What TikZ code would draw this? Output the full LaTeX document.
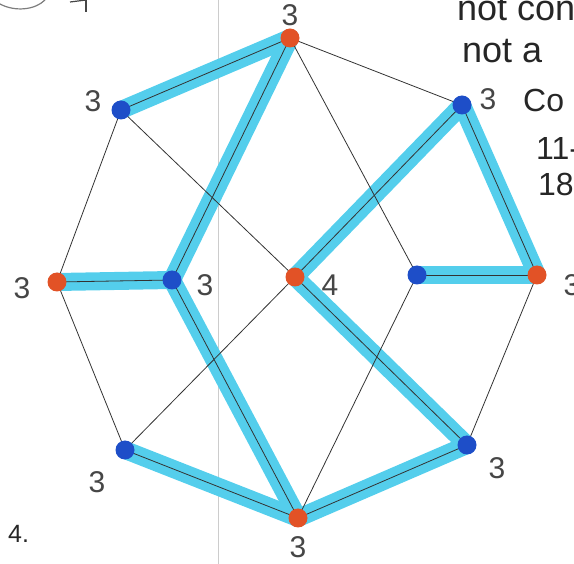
\documentclass[tikz,border=0pt]{standalone}
\usepackage{fontspec}
\setmainfont{Liberation Sans}
\definecolor{vorange}{RGB}{226,82,38}
\definecolor{vblue}{RGB}{30,78,200}
\definecolor{hlcyan}{RGB}{84,206,236}
\definecolor{hand}{RGB}{70,70,70}
\begin{document}
\begin{tikzpicture}[x=1pt,y=-1pt,
  vtx/.style={circle,inner sep=0pt,minimum size=19pt},
  orangev/.style={vtx,fill=vorange},
  bluev/.style={vtx,fill=vblue},
  edge/.style={draw=black!80,line width=0.8pt},
  hl/.style={draw=hlcyan,line width=18pt,line cap=round},
  lbl/.style={text=hand,inner sep=0pt,font=\fontsize{30}{30}\selectfont},
  note/.style={text=black!85,inner sep=0pt,anchor=base west,font=\fontsize{36}{36}\selectfont}]
\useasboundingbox (0,0) rectangle (574,564);
\clip (0,0) rectangle (574,564);
% paper fold line
\coordinate (f1) at (218,0);
\coordinate (f2) at (218,564);
\draw[black!20,line width=0.8pt] (f1) -- (f2);
% fragments at top left
\coordinate (a1) at (0,4);
\coordinate (a2) at (45,0);
\draw[hand!70,line width=1.2pt] (a1) .. controls (15,12) and (35,10) .. (a2);
\coordinate (q1) at (86,0);
\coordinate (q2) at (86,12);
\coordinate (q3) at (70,2);
\draw[hand,line width=1.4pt] (q1) -- (q2);
\draw[hand,line width=1.2pt] (q3) -- (q1);
% vertex positions
\coordinate (pT)  at (290,38);
\coordinate (pUL) at (121,110);
\coordinate (pUR) at (462,105);
\coordinate (pL)  at (57,282);
\coordinate (pIL) at (172,280);
\coordinate (pC)  at (295,277);
\coordinate (pIR) at (417,275);
\coordinate (pR)  at (537,275);
\coordinate (pLL) at (125,450);
\coordinate (pLR) at (467,445);
\coordinate (pB)  at (298,518);
% highlighted edges
\foreach \a/\b in {pT/pUL,pT/pIL,pIL/pL,pIL/pB,pLL/pB,pB/pLR,pLR/pC,pC/pUR,pUR/pR,pR/pIR}
  \draw[hl] (\a) -- (\b);
% all edges
\foreach \a/\b in {pT/pUL,pT/pUR,pT/pIL,pT/pIR,pUL/pL,pUL/pC,pUR/pR,pUR/pC,pL/pIL,pL/pLL,pIL/pB,pC/pLL,pC/pLR,pIR/pR,pIR/pB,pLL/pB,pB/pLR,pLR/pR}
  \draw[edge] (\a) -- (\b);
% vertices
\node[orangev] (T)  at (pT) {};
\node[bluev]   (UL) at (pUL) {};
\node[bluev]   (UR) at (pUR) {};
\node[orangev] (L)  at (pL) {};
\node[bluev]   (IL) at (pIL) {};
\node[orangev] (C)  at (pC) {};
\node[bluev]   (IR) at (pIR) {};
\node[orangev] (R)  at (pR) {};
\node[bluev]   (LL) at (pLL) {};
\node[bluev]   (LR) at (pLR) {};
\node[orangev] (B)  at (pB) {};
% degree labels
\node[lbl] (lT)  at (290,15)  {3};
\node[lbl] (lUL) at (93,101)  {3};
\node[lbl] (lUR) at (488,99)  {3};
\node[lbl] (lL)  at (22,288)  {3};
\node[lbl] (lIL) at (205,285) {3};
\node[lbl] (lC)  at (330,285) {4};
\node[lbl] (lR)  at (572,285) {3};
\node[lbl] (lLL) at (97,482)  {3};
\node[lbl] (lLR) at (497,468) {3};
\node[lbl] (lB)  at (298,547) {3};
% handwritten notes
\node[note] (n1) at (457,21)  {not con};
\node[note] (n2) at (462,63)  {not a};
\node[note,font=\fontsize{32}{32}\selectfont] (n3) at (523,112) {Co};
\node[note,font=\fontsize{32}{32}\selectfont] (n4) at (536,160) {11-};
\node[note,font=\fontsize{32}{32}\selectfont] (n5) at (538,196) {18};
% problem number
\node[text=black!85,inner sep=0pt,anchor=base west,font=\fontsize{25}{25}\selectfont] (num) at (8,543) {4.};
\end{tikzpicture}
\end{document}
